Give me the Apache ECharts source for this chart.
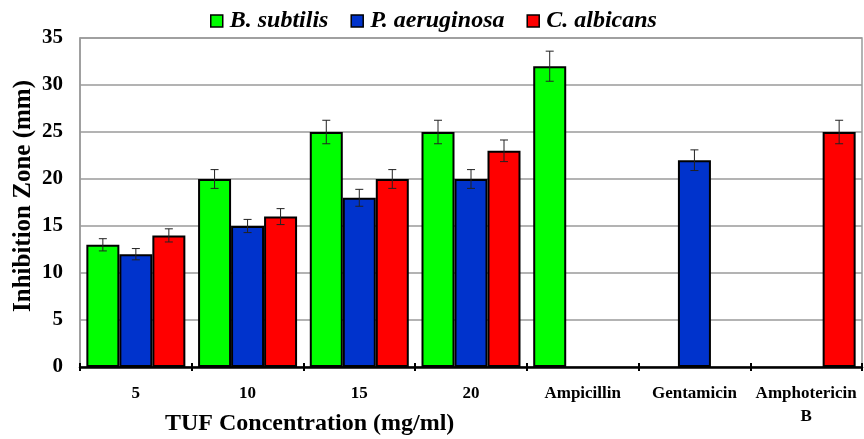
<!DOCTYPE html>
<html>
<head>
<meta charset="utf-8">
<script src="https://cdn.jsdelivr.net/npm/echarts@6/dist/echarts.min.js"></script>
<style>html,body{margin:0;padding:0;background:#fff}#c{width:864px;height:439px}</style>
</head>
<body>
<div id="c"></div>
<script>
const categories = ['5', '10', '15', '20', 'Ampicillin', 'Gentamicin', 'Amphotericin\nB'];
const seriesNames = ['B. subtilis', 'P. aeruginosa', 'C. albicans'];
const bSubtilis = [13, 20, 25, 25, 32, null, null];
const pAeruginosa = [12, 15, 18, 20, null, 22, null];
const cAlbicans = [14, 16, 20, 23, null, null, 25];
const bSubtilisErr = [0.65, 1.0, 1.25, 1.25, 1.6, null, null];
const pAeruginosaErr = [0.6, 0.7, 0.9, 1.0, null, 1.1, null];
const cAlbicansErr = [0.7, 0.85, 1.0, 1.15, null, null, 1.25];
const yMin = 0, yMax = 35, yStep = 5;
const xTitle = 'TUF Concentration (mg/ml)';
const yTitle = 'Inhibition Zone (mm)';

const colors = ['#00FF00', '#0033CC', '#FF0000'];
const values = [bSubtilis, pAeruginosa, cAlbicans];
const errs = [bSubtilisErr, pAeruginosaErr, cAlbicansErr];
const BAR_W = 33;
const serif = '"Liberation Serif", "Times New Roman", serif';

const chart = echarts.init(document.getElementById('c'), null, {renderer: 'canvas'});

const barSeries = values.map((v, i) => ({
  name: seriesNames[i],
  type: 'bar',
  data: v.map(x => x === null ? '-' : x),
  barWidth: BAR_W,
  barGap: '0%',
  itemStyle: {color: colors[i], borderColor: '#000', borderWidth: 2},
  z: 2
}));

const errSeries = values.map((v, i) => ({
  type: 'custom',
  name: 'err' + i,
  data: v.map((x, k) => x === null ? null : [k, x - errs[i][k], x + errs[i][k]]).filter(d => d),
  encode: {x: 0, y: [1, 2]},
  z: 5,
  silent: true,
  renderItem: function (params, api) {
    const lo = api.coord([api.value(0), api.value(1)]);
    const hi = api.coord([api.value(0), api.value(2)]);
    const x = lo[0] + (i - 1) * BAR_W;
    const cap = 4;
    const style = {stroke: '#222', lineWidth: 1};
    return {
      type: 'group',
      children: [
        {type: 'line', shape: {x1: x, y1: lo[1], x2: x, y2: hi[1]}, style},
        {type: 'line', shape: {x1: x - cap, y1: lo[1], x2: x + cap, y2: lo[1]}, style},
        {type: 'line', shape: {x1: x - cap, y1: hi[1], x2: x + cap, y2: hi[1]}, style}
      ]
    };
  }
}));

const option = {
  animation: false,
  backgroundColor: '#fff',
  legend: {
    data: seriesNames,
    top: 4,
    left: 205,
    itemWidth: 12,
    itemHeight: 12,
    itemGap: 22,
    icon: 'rect',
    itemStyle: {borderColor: '#000', borderWidth: 1.5},
    textStyle: {fontFamily: serif, fontSize: 24, fontWeight: 'bold', fontStyle: 'italic', color: '#000', padding: [0, 0, 0, 2]}
  },
  grid: {
    left: 80, right: 2, top: 38, bottom: 72,
    show: true, borderColor: '#9a9a9a', borderWidth: 1.5, backgroundColor: 'transparent'
  },
  xAxis: [{
    type: 'category',
    data: categories,
    boundaryGap: true,
    axisLine: {lineStyle: {color: '#000', width: 2.5}},
    axisTick: {show: true, inside: false, length: 4, lineStyle: {color: '#000', width: 2}},
    axisLabel: {fontFamily: serif, fontSize: 17, fontWeight: 'bold', color: '#000', margin: 15, lineHeight: 23, interval: 0},
    z: 10
  }, {
    type: 'category',
    data: categories,
    position: 'bottom',
    boundaryGap: true,
    axisLine: {show: false},
    axisTick: {show: true, inside: true, length: 4, lineStyle: {color: '#000', width: 2}},
    axisLabel: {show: false},
    z: 10
  }],
  yAxis: {
    type: 'value',
    min: yMin, max: yMax, interval: yStep,
    axisLine: {show: true, lineStyle: {color: '#9a9a9a', width: 1.5}},
    axisTick: {show: false},
    splitLine: {lineStyle: {color: '#9a9a9a', width: 1.5}},
    axisLabel: {fontFamily: serif, fontSize: 21, fontWeight: 'bold', color: '#000', margin: 17}
  },
  graphic: [
    {
      type: 'text', left: 165, top: 412,
      style: {text: xTitle, font: 'bold 24px ' + serif, fill: '#000'}
    },
    {
      type: 'text', x: 24, y: 196, rotation: Math.PI / 2,
      style: {text: yTitle, font: 'bold 25px ' + serif, fill: '#000', textAlign: 'center', textVerticalAlign: 'middle'}
    }
  ],
  series: barSeries.concat(errSeries)
};
chart.setOption(option);
</script>
</body>
</html>
